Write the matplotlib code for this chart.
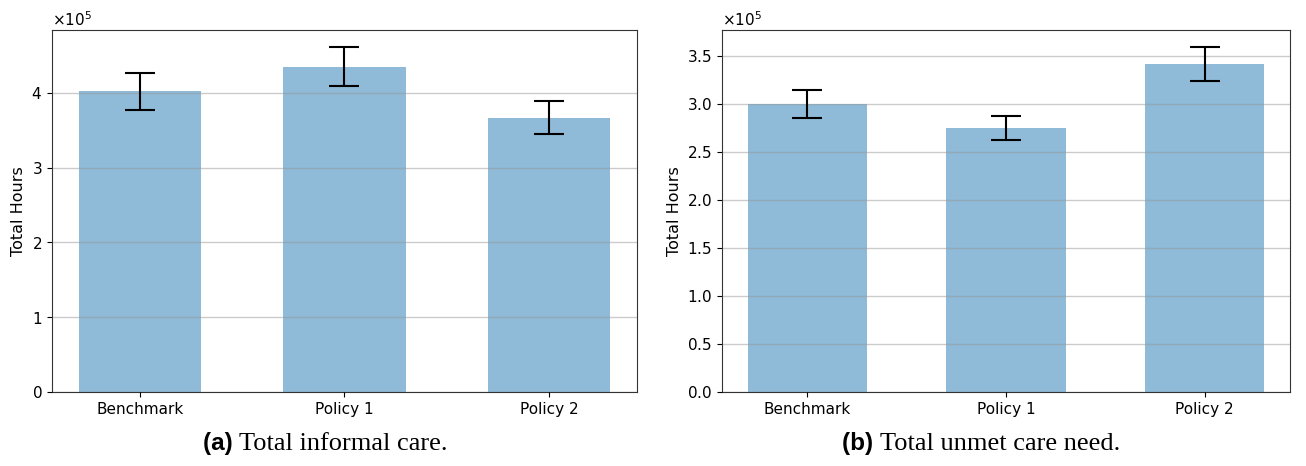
import matplotlib
matplotlib.use('Agg')
import matplotlib.pyplot as plt
from matplotlib.ticker import ScalarFormatter

policies = ['Benchmark', 'Policy 1', 'Policy 2']

# total hours, values
informal_care = [4.02e5, 4.35e5, 3.665e5]
informal_err = [0.25e5, 0.265e5, 0.22e5]

unmet_need = [3.0e5, 2.75e5, 3.415e5]
unmet_err = [0.145e5, 0.125e5, 0.18e5]

captions = [('(a)', 'Total informal care.'), ('(b)', 'Total unmet care need.')]

fig = plt.figure(figsize=(13.06, 4.66), dpi=100)
ax_a = fig.add_axes([0.0398, 0.159, 0.4479, 0.7766])
ax_b = fig.add_axes([0.5528, 0.159, 0.4349, 0.7766])

panels = [(ax_a, informal_care, informal_err, 4.84e5),
          (ax_b, unmet_need, unmet_err, 3.77e5)]

for ax, vals, errs, top in panels:
    x = range(len(policies))
    ax.bar(x, vals, width=0.6, color='#8fbad8', zorder=1)
    ax.errorbar(x, vals, yerr=errs, fmt='none', ecolor='black',
                elinewidth=1.5, capsize=11, capthick=1.5, zorder=3)
    ax.set_xticks(list(x))
    ax.set_xticklabels(policies, fontsize=11)
    ax.set_ylim(0, top)
    ax.yaxis.grid(True, color='#999999', alpha=0.5, linewidth=1.0, zorder=2)
    ax.set_axisbelow(False)
    fmt = ScalarFormatter(useMathText=True)
    fmt.set_powerlimits((0, 0))
    ax.yaxis.set_major_formatter(fmt)
    ax.yaxis.get_offset_text().set_fontsize(11)
    ax.tick_params(axis='y', labelsize=11)
    ax.set_ylabel('Total Hours', fontsize=11.5)
    for sp in ax.spines.values():
        sp.set_color('#333333')

# captions centred on each half of the figure
fig.canvas.draw()
renderer = fig.canvas.get_renderer()
for cx, (tag, text) in zip([0.249, 0.751], captions):
    t1 = fig.text(0, 0.035, tag + ' ', ha='left', va='baseline',
                  fontsize=17.5, fontweight='bold', family='Liberation Sans')
    t2 = fig.text(0, 0.035, text, ha='left', va='baseline',
                  fontsize=19, family='Liberation Serif')
    w1 = t1.get_window_extent(renderer).width / fig.bbox.width
    w2 = t2.get_window_extent(renderer).width / fig.bbox.width
    x0 = cx - (w1 + w2) / 2
    t1.set_x(x0)
    t2.set_x(x0 + w1)

fig.savefig('out.png', dpi=100)
